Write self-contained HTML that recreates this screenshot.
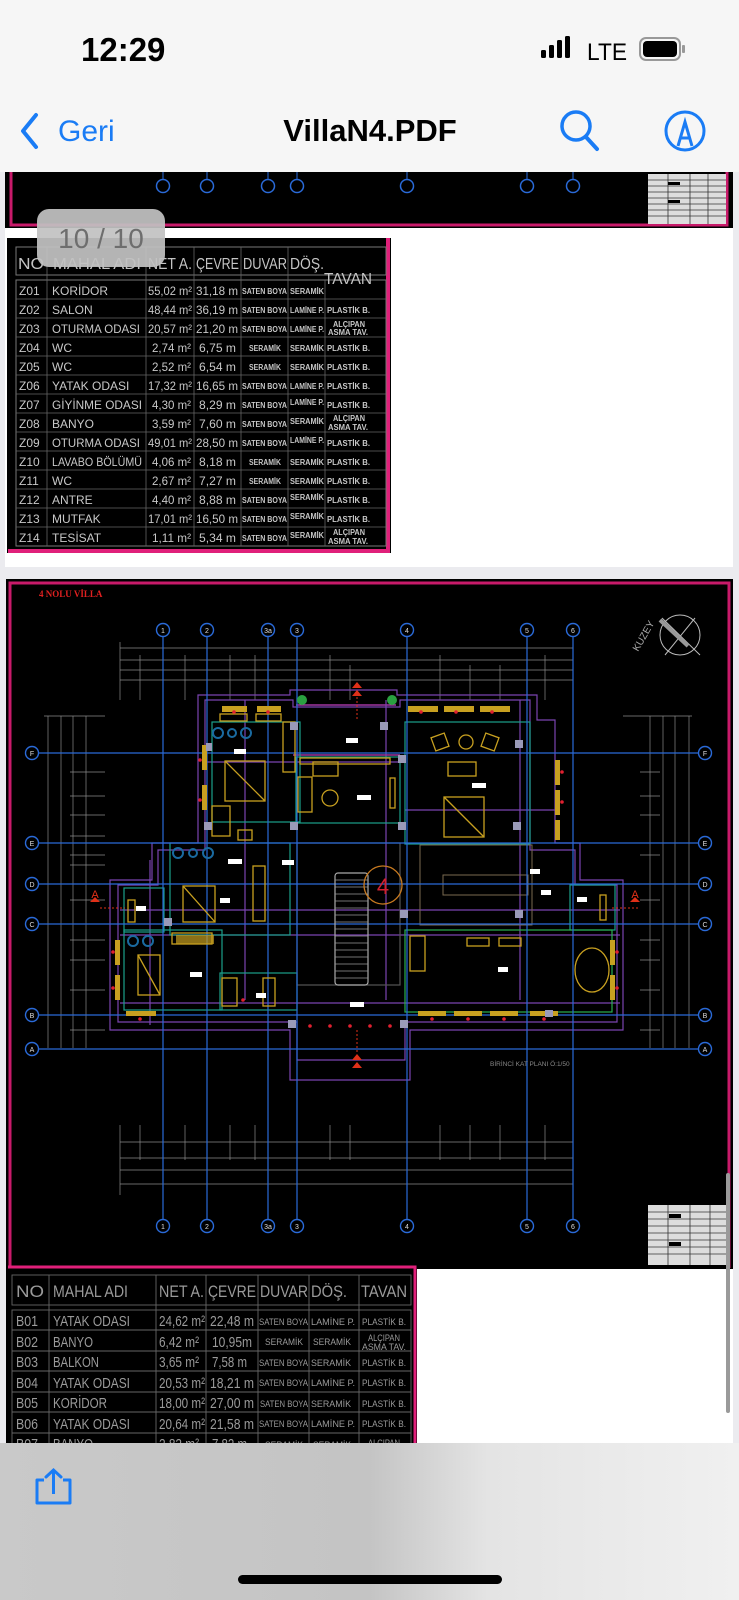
<!DOCTYPE html>
<html><head><meta charset="utf-8">
<style>
html,body{margin:0;padding:0;width:739px;height:1600px;overflow:hidden;background:#ebebef;font-family:"Liberation Sans",sans-serif;}
svg{position:absolute;left:0;top:0;}
</style></head><body>
<svg width="739" height="1600" viewBox="0 0 739 1600" xmlns="http://www.w3.org/2000/svg" font-family="Liberation Sans, sans-serif">
<!-- header -->
<rect x="0" y="0" width="739" height="172" fill="#f6f6f6"/>
<text x="81" y="61" font-size="33" font-weight="bold" fill="#000">12:29</text>
<rect x="541" y="50" width="5" height="8" rx="1.5" fill="#000"/>
<rect x="549" y="45" width="5" height="13" rx="1.5" fill="#000"/>
<rect x="557" y="40" width="5" height="18" rx="1.5" fill="#000"/>
<rect x="565" y="36" width="5" height="22" rx="1.5" fill="#000"/>
<text x="587" y="60" font-size="24" fill="#000" textLength="40" lengthAdjust="spacingAndGlyphs">LTE</text>
<rect x="640" y="38" width="40" height="22" rx="6" fill="none" stroke="#999" stroke-width="2"/>
<rect x="643" y="41" width="34" height="16" rx="4" fill="#000"/>
<rect x="682" y="45" width="3" height="8" rx="1" fill="#999"/>
<polyline points="36,115 23,131 36,147" fill="none" stroke="#1a7cf5" stroke-width="4" stroke-linecap="round" stroke-linejoin="round"/>
<text x="58" y="141" font-size="30" fill="#1a7cf5">Geri</text>
<text x="370" y="141" font-size="31" font-weight="bold" fill="#000" text-anchor="middle">VillaN4.PDF</text>
<circle cx="576" cy="126" r="14" fill="none" stroke="#1a7cf5" stroke-width="3.5"/>
<line x1="586" y1="137" x2="597" y2="149" stroke="#1a7cf5" stroke-width="4" stroke-linecap="round"/>
<circle cx="685" cy="131" r="19" fill="none" stroke="#1a7cf5" stroke-width="3"/>
<path d="M678,146 L685,122 L692,146 M680,138 L690,138" fill="none" stroke="#1a7cf5" stroke-width="3"/>

<!-- page 1 band -->
<rect x="5" y="172" width="728" height="56" fill="#000"/>
<path d="M11,172 V225 H727 V172" fill="none" stroke="#c81a6a" stroke-width="3"/>
<g fill="none" stroke="#2a6ad8" stroke-width="1.5">
<circle cx="163" cy="186" r="6.5"/><circle cx="207" cy="186" r="6.5"/><circle cx="268" cy="186" r="6.5"/><circle cx="297" cy="186" r="6.5"/><circle cx="407" cy="186" r="6.5"/><circle cx="527" cy="186" r="6.5"/><circle cx="573" cy="186" r="6.5"/>
</g>
<g stroke="#2a6ad8"><line x1="163" y1="172" x2="163" y2="179"/><line x1="207" y1="172" x2="207" y2="179"/><line x1="268" y1="172" x2="268" y2="179"/><line x1="297" y1="172" x2="297" y2="179"/><line x1="407" y1="172" x2="407" y2="179"/><line x1="527" y1="172" x2="527" y2="179"/><line x1="573" y1="172" x2="573" y2="179"/></g>
<rect x="648" y="174" width="78" height="50" fill="#ddd"/>
<g stroke="#333" stroke-width="0.8"><line x1="648" y1="180" x2="726" y2="180"/><line x1="648" y1="186" x2="726" y2="186"/><line x1="648" y1="192" x2="726" y2="192"/><line x1="648" y1="198" x2="726" y2="198"/><line x1="648" y1="204" x2="726" y2="204"/><line x1="648" y1="210" x2="726" y2="210"/><line x1="648" y1="216" x2="726" y2="216"/><line x1="668" y1="174" x2="668" y2="224"/><line x1="690" y1="174" x2="690" y2="224"/><line x1="708" y1="174" x2="708" y2="224"/></g>
<rect x="668" y="182" width="12" height="3" fill="#000"/><rect x="668" y="200" width="12" height="3" fill="#000"/>

<!-- page 1 white remainder -->
<rect x="5" y="228" width="728" height="339" fill="#fff"/>
<!-- table 1 -->
<rect x="7" y="238" width="384" height="315" fill="#000"/>
<path d="M388,238 V551 H8" fill="none" stroke="#e0207a" stroke-width="4"/>
<g stroke="#777" stroke-width="1" fill="none">
<rect x="16" y="247" width="370" height="28"/>
<rect x="16" y="280" width="370" height="266"/>
</g>
<g stroke="#666" stroke-width="0.8">
<line x1="16" y1="299" x2="386" y2="299"/><line x1="16" y1="318" x2="386" y2="318"/><line x1="16" y1="337" x2="386" y2="337"/><line x1="16" y1="356" x2="386" y2="356"/><line x1="16" y1="375" x2="386" y2="375"/><line x1="16" y1="394" x2="386" y2="394"/><line x1="16" y1="413" x2="386" y2="413"/><line x1="16" y1="432" x2="386" y2="432"/><line x1="16" y1="451" x2="386" y2="451"/><line x1="16" y1="470" x2="386" y2="470"/><line x1="16" y1="489" x2="386" y2="489"/><line x1="16" y1="508" x2="386" y2="508"/><line x1="16" y1="527" x2="386" y2="527"/>
<line x1="47" y1="247" x2="47" y2="546"/><line x1="146" y1="247" x2="146" y2="546"/><line x1="194" y1="247" x2="194" y2="546"/><line x1="241" y1="247" x2="241" y2="546"/><line x1="288" y1="247" x2="288" y2="546"/><line x1="325" y1="280" x2="325" y2="546"/>
</g>
<g fill="#c4c4c4" font-size="16" lengthAdjust="spacingAndGlyphs">
<text x="18" y="269" textLength="26" lengthAdjust="spacingAndGlyphs">NO</text><text x="53" y="269" textLength="88" lengthAdjust="spacingAndGlyphs">MAHAL ADI</text>
<text x="148" y="269" textLength="44" lengthAdjust="spacingAndGlyphs">NET A.</text><text x="196" y="269" textLength="43" lengthAdjust="spacingAndGlyphs">ÇEVRE</text>
<text x="243" y="269" textLength="44" lengthAdjust="spacingAndGlyphs">DUVAR</text><text x="290" y="269" textLength="34" lengthAdjust="spacingAndGlyphs">DÖŞ.</text>
<text x="324" y="284" textLength="48" lengthAdjust="spacingAndGlyphs">TAVAN</text>
</g>
<g fill="#c8c8c8" font-size="12">
<text x="19" y="295">Z01</text><text x="52" y="295">KORİDOR</text>
<text x="19" y="314">Z02</text><text x="52" y="314">SALON</text>
<text x="19" y="333">Z03</text><text x="52" y="333" textLength="88" lengthAdjust="spacingAndGlyphs">OTURMA ODASI</text>
<text x="19" y="352">Z04</text><text x="52" y="352">WC</text>
<text x="19" y="371">Z05</text><text x="52" y="371">WC</text>
<text x="19" y="390">Z06</text><text x="52" y="390">YATAK ODASI</text>
<text x="19" y="409">Z07</text><text x="52" y="409" textLength="90" lengthAdjust="spacingAndGlyphs">GİYİNME ODASI</text>
<text x="19" y="428">Z08</text><text x="52" y="428">BANYO</text>
<text x="19" y="447">Z09</text><text x="52" y="447" textLength="88" lengthAdjust="spacingAndGlyphs">OTURMA ODASI</text>
<text x="19" y="466">Z10</text><text x="52" y="466" textLength="90" lengthAdjust="spacingAndGlyphs">LAVABO BÖLÜMÜ</text>
<text x="19" y="485">Z11</text><text x="52" y="485">WC</text>
<text x="19" y="504">Z12</text><text x="52" y="504">ANTRE</text>
<text x="19" y="523">Z13</text><text x="52" y="523">MUTFAK</text>
<text x="19" y="542">Z14</text><text x="52" y="542">TESİSAT</text>
</g>
<g fill="#c8c8c8" font-size="12">
<text x="148" y="295" textLength="44" lengthAdjust="spacingAndGlyphs">55,02 m²</text><text x="196" y="295" textLength="42" lengthAdjust="spacingAndGlyphs">31,18 m</text>
<text x="148" y="314" textLength="44" lengthAdjust="spacingAndGlyphs">48,44 m²</text><text x="196" y="314" textLength="42" lengthAdjust="spacingAndGlyphs">36,19 m</text>
<text x="148" y="333" textLength="44" lengthAdjust="spacingAndGlyphs">20,57 m²</text><text x="196" y="333" textLength="42" lengthAdjust="spacingAndGlyphs">21,20 m</text>
<text x="152" y="352" textLength="39" lengthAdjust="spacingAndGlyphs">2,74 m²</text><text x="199" y="352" textLength="37" lengthAdjust="spacingAndGlyphs">6,75 m</text>
<text x="152" y="371" textLength="39" lengthAdjust="spacingAndGlyphs">2,52 m²</text><text x="199" y="371" textLength="37" lengthAdjust="spacingAndGlyphs">6,54 m</text>
<text x="148" y="390" textLength="44" lengthAdjust="spacingAndGlyphs">17,32 m²</text><text x="196" y="390" textLength="42" lengthAdjust="spacingAndGlyphs">16,65 m</text>
<text x="152" y="409" textLength="39" lengthAdjust="spacingAndGlyphs">4,30 m²</text><text x="199" y="409" textLength="37" lengthAdjust="spacingAndGlyphs">8,29 m</text>
<text x="152" y="428" textLength="39" lengthAdjust="spacingAndGlyphs">3,59 m²</text><text x="199" y="428" textLength="37" lengthAdjust="spacingAndGlyphs">7,60 m</text>
<text x="148" y="447" textLength="44" lengthAdjust="spacingAndGlyphs">49,01 m²</text><text x="196" y="447" textLength="42" lengthAdjust="spacingAndGlyphs">28,50 m</text>
<text x="152" y="466" textLength="39" lengthAdjust="spacingAndGlyphs">4,06 m²</text><text x="199" y="466" textLength="37" lengthAdjust="spacingAndGlyphs">8,18 m</text>
<text x="152" y="485" textLength="39" lengthAdjust="spacingAndGlyphs">2,67 m²</text><text x="199" y="485" textLength="37" lengthAdjust="spacingAndGlyphs">7,27 m</text>
<text x="152" y="504" textLength="39" lengthAdjust="spacingAndGlyphs">4,40 m²</text><text x="199" y="504" textLength="37" lengthAdjust="spacingAndGlyphs">8,88 m</text>
<text x="148" y="523" textLength="44" lengthAdjust="spacingAndGlyphs">17,01 m²</text><text x="196" y="523" textLength="42" lengthAdjust="spacingAndGlyphs">16,50 m</text>
<text x="152" y="542" textLength="39" lengthAdjust="spacingAndGlyphs">1,11 m²</text><text x="199" y="542" textLength="37" lengthAdjust="spacingAndGlyphs">5,34 m</text>
</g>
<g fill="#c8c8c8" font-size="8" font-weight="bold">
<text x="242" y="294" textLength="45" lengthAdjust="spacingAndGlyphs">SATEN BOYA</text><text x="290" y="294" textLength="34" lengthAdjust="spacingAndGlyphs">SERAMİK</text>
<text x="242" y="313" textLength="45" lengthAdjust="spacingAndGlyphs">SATEN BOYA</text><text x="290" y="313" textLength="34" lengthAdjust="spacingAndGlyphs">LAMİNE P.</text><text x="327" y="313" textLength="43" lengthAdjust="spacingAndGlyphs">PLASTİK B.</text>
<text x="242" y="332" textLength="45" lengthAdjust="spacingAndGlyphs">SATEN BOYA</text><text x="290" y="332" textLength="34" lengthAdjust="spacingAndGlyphs">LAMİNE P.</text><text x="333" y="327" textLength="32" lengthAdjust="spacingAndGlyphs">ALÇIPAN</text><text x="328" y="335" textLength="40" lengthAdjust="spacingAndGlyphs">ASMA TAV.</text>
<text x="249" y="351" textLength="32" lengthAdjust="spacingAndGlyphs">SERAMİK</text><text x="290" y="351" textLength="34" lengthAdjust="spacingAndGlyphs">SERAMİK</text><text x="327" y="351" textLength="43" lengthAdjust="spacingAndGlyphs">PLASTİK B.</text>
<text x="249" y="370" textLength="32" lengthAdjust="spacingAndGlyphs">SERAMİK</text><text x="290" y="370" textLength="34" lengthAdjust="spacingAndGlyphs">SERAMİK</text><text x="327" y="370" textLength="43" lengthAdjust="spacingAndGlyphs">PLASTİK B.</text>
<text x="242" y="389" textLength="45" lengthAdjust="spacingAndGlyphs">SATEN BOYA</text><text x="290" y="389" textLength="34" lengthAdjust="spacingAndGlyphs">LAMİNE P.</text><text x="327" y="389" textLength="43" lengthAdjust="spacingAndGlyphs">PLASTİK B.</text>
<text x="242" y="408" textLength="45" lengthAdjust="spacingAndGlyphs">SATEN BOYA</text><text x="290" y="405" textLength="34" lengthAdjust="spacingAndGlyphs">LAMİNE P.</text><text x="327" y="408" textLength="43" lengthAdjust="spacingAndGlyphs">PLASTİK B.</text>
<text x="242" y="427" textLength="45" lengthAdjust="spacingAndGlyphs">SATEN BOYA</text><text x="290" y="424" textLength="34" lengthAdjust="spacingAndGlyphs">SERAMİK</text><text x="333" y="421" textLength="32" lengthAdjust="spacingAndGlyphs">ALÇIPAN</text><text x="328" y="430" textLength="40" lengthAdjust="spacingAndGlyphs">ASMA TAV.</text>
<text x="242" y="446" textLength="45" lengthAdjust="spacingAndGlyphs">SATEN BOYA</text><text x="290" y="443" textLength="34" lengthAdjust="spacingAndGlyphs">LAMİNE P.</text><text x="327" y="446" textLength="43" lengthAdjust="spacingAndGlyphs">PLASTİK B.</text>
<text x="249" y="465" textLength="32" lengthAdjust="spacingAndGlyphs">SERAMİK</text><text x="290" y="465" textLength="34" lengthAdjust="spacingAndGlyphs">SERAMİK</text><text x="327" y="465" textLength="43" lengthAdjust="spacingAndGlyphs">PLASTİK B.</text>
<text x="249" y="484" textLength="32" lengthAdjust="spacingAndGlyphs">SERAMİK</text><text x="290" y="484" textLength="34" lengthAdjust="spacingAndGlyphs">SERAMİK</text><text x="327" y="484" textLength="43" lengthAdjust="spacingAndGlyphs">PLASTİK B.</text>
<text x="242" y="503" textLength="45" lengthAdjust="spacingAndGlyphs">SATEN BOYA</text><text x="290" y="500" textLength="34" lengthAdjust="spacingAndGlyphs">SERAMİK</text><text x="327" y="503" textLength="43" lengthAdjust="spacingAndGlyphs">PLASTİK B.</text>
<text x="242" y="522" textLength="45" lengthAdjust="spacingAndGlyphs">SATEN BOYA</text><text x="290" y="519" textLength="34" lengthAdjust="spacingAndGlyphs">SERAMİK</text><text x="327" y="522" textLength="43" lengthAdjust="spacingAndGlyphs">PLASTİK B.</text>
<text x="242" y="541" textLength="45" lengthAdjust="spacingAndGlyphs">SATEN BOYA</text><text x="290" y="538" textLength="34" lengthAdjust="spacingAndGlyphs">SERAMİK</text><text x="333" y="535" textLength="32" lengthAdjust="spacingAndGlyphs">ALÇIPAN</text><text x="328" y="544" textLength="40" lengthAdjust="spacingAndGlyphs">ASMA TAV.</text>
</g>
<!-- badge -->
<rect x="37" y="209" width="128" height="58" rx="12" fill="#c2c2c2" fill-opacity="0.93"/>
<text x="101" y="248" font-size="28" fill="#6e6e6e" text-anchor="middle">10 / 10</text>

<!-- page 2 -->
<rect x="6" y="579" width="727" height="690" fill="#000"/>
<path d="M10,1268 V583 H729 V1268" fill="none" stroke="#c81a6a" stroke-width="3"/>
<text x="39" y="597" font-size="9" font-weight="bold" fill="#e02020" font-family="Liberation Serif, serif">4 NOLU VİLLA</text>
<!-- north -->
<text x="0" y="0" font-size="10" fill="#aaa" transform="translate(638,652) rotate(-60)">KUZEY</text>
<circle cx="680" cy="635" r="20" fill="none" stroke="#bbb" stroke-width="1"/>
<line x1="662" y1="618" x2="700" y2="655" stroke="#bbb"/><line x1="695" y1="618" x2="665" y2="655" stroke="#bbb"/>
<line x1="660" y1="620" x2="688" y2="646" stroke="#999" stroke-width="4"/>

<!-- dimension lines -->
<g stroke="#8a8a8a" stroke-width="0.7" fill="none">
<line x1="120" y1="648" x2="573" y2="648"/><line x1="120" y1="660" x2="573" y2="660"/><line x1="120" y1="670" x2="573" y2="670"/><line x1="120" y1="680" x2="573" y2="680"/>
<line x1="120" y1="642" x2="120" y2="700"/><line x1="140" y1="655" x2="140" y2="700"/><line x1="185" y1="655" x2="185" y2="700"/><line x1="230" y1="655" x2="230" y2="700"/><line x1="255" y1="655" x2="255" y2="700"/><line x1="330" y1="655" x2="330" y2="700"/><line x1="350" y1="665" x2="350" y2="700"/><line x1="440" y1="655" x2="440" y2="700"/><line x1="470" y1="665" x2="470" y2="700"/><line x1="500" y1="665" x2="500" y2="700"/><line x1="545" y1="655" x2="545" y2="700"/>
<line x1="120" y1="1142" x2="573" y2="1142"/><line x1="120" y1="1158" x2="573" y2="1158"/><line x1="120" y1="1170" x2="573" y2="1170"/><line x1="120" y1="1184" x2="573" y2="1184"/>
<line x1="120" y1="1125" x2="120" y2="1195"/><line x1="140" y1="1125" x2="140" y2="1160"/><line x1="185" y1="1125" x2="185" y2="1160"/><line x1="230" y1="1125" x2="230" y2="1160"/><line x1="255" y1="1125" x2="255" y2="1160"/><line x1="330" y1="1125" x2="330" y2="1160"/><line x1="350" y1="1125" x2="350" y2="1160"/><line x1="440" y1="1125" x2="440" y2="1160"/><line x1="470" y1="1125" x2="470" y2="1160"/><line x1="500" y1="1125" x2="500" y2="1160"/><line x1="545" y1="1125" x2="545" y2="1160"/><line x1="573" y1="1125" x2="573" y2="1195"/>
<line x1="48" y1="716" x2="48" y2="1048"/><line x1="61" y1="716" x2="61" y2="1048"/><line x1="73" y1="716" x2="73" y2="1048"/><line x1="86" y1="716" x2="86" y2="1048"/>
<line x1="44" y1="716" x2="105" y2="716"/><line x1="70" y1="772" x2="105" y2="772"/><line x1="70" y1="796" x2="105" y2="796"/><line x1="70" y1="815" x2="105" y2="815"/><line x1="70" y1="836" x2="105" y2="836"/><line x1="70" y1="855" x2="105" y2="855"/><line x1="70" y1="865" x2="105" y2="865"/><line x1="70" y1="900" x2="105" y2="900"/><line x1="70" y1="940" x2="105" y2="940"/><line x1="70" y1="960" x2="105" y2="960"/><line x1="70" y1="990" x2="105" y2="990"/><line x1="70" y1="1030" x2="105" y2="1030"/>
<line x1="650" y1="716" x2="650" y2="1048"/><line x1="663" y1="716" x2="663" y2="1048"/><line x1="675" y1="716" x2="675" y2="1048"/><line x1="689" y1="716" x2="689" y2="1048"/>
<line x1="623" y1="716" x2="692" y2="716"/><line x1="640" y1="772" x2="660" y2="772"/><line x1="640" y1="796" x2="660" y2="796"/><line x1="640" y1="815" x2="660" y2="815"/><line x1="640" y1="855" x2="660" y2="855"/><line x1="640" y1="900" x2="660" y2="900"/><line x1="640" y1="940" x2="660" y2="940"/><line x1="640" y1="960" x2="660" y2="960"/><line x1="640" y1="990" x2="660" y2="990"/><line x1="640" y1="1030" x2="660" y2="1030"/>
</g>
<!-- outer building purple -->
<g fill="none" stroke="#7a44b0" stroke-width="1.2">
<path d="M198,695 H290 V690 H397 V695 H537 V720 H555 V843 H580 V880 H623 V1030 H410 V1080 H290 V1030 H110 V880 H152 V843 H198 Z"/>
<path d="M205,700 H293 V707 H400 V700 H530 V850 H575 V885 H617 V1022 H405 V1060 H297 V1022 H118 V885 H158 V850 H205 Z"/>
<line x1="296" y1="705" x2="396" y2="705" stroke="#c040c0"/>
<line x1="293" y1="755" x2="400" y2="755" stroke="#c040c0"/>
<line x1="120" y1="910" x2="620" y2="910"/><line x1="120" y1="935" x2="620" y2="935"/><line x1="120" y1="1003" x2="620" y2="1003"/>
<line x1="205" y1="762" x2="400" y2="762"/><line x1="405" y1="810" x2="555" y2="810"/>
<line x1="245" y1="700" x2="245" y2="1000"/><line x1="386" y1="700" x2="386" y2="1000"/><line x1="520" y1="700" x2="520" y2="1000"/><line x1="150" y1="860" x2="150" y2="1025"/>
</g>
<!-- teal rooms -->
<g fill="none" stroke="#1aa08a" stroke-width="1.2">
<rect x="212" y="722" width="88" height="100"/>
<rect x="170" y="843" width="120" height="92"/>
<rect x="124" y="888" width="40" height="44"/>
<rect x="124" y="930" width="98" height="80"/>
<rect x="220" y="973" width="77" height="37"/>
<rect x="405" y="722" width="125" height="122"/>
<rect x="570" y="885" width="45" height="45"/>
<rect x="405" y="930" width="207" height="82" stroke="#2ab050"/>
<rect x="296" y="757" width="104" height="66"/>
<rect x="297" y="843" width="103" height="142" stroke="#555"/>
</g>
<g fill="none" stroke="#7a6a50" stroke-width="1">
<rect x="420" y="845" width="112" height="80"/>
<rect x="443" y="875" width="85" height="20"/>
</g>
<!-- grid lines -->
<g stroke="#2a6ad8" stroke-width="1.2">
<line x1="163" y1="637" x2="163" y2="1219"/><line x1="207" y1="637" x2="207" y2="1219"/><line x1="268" y1="637" x2="268" y2="1219"/><line x1="297" y1="637" x2="297" y2="1219"/><line x1="407" y1="637" x2="407" y2="1219"/><line x1="527" y1="637" x2="527" y2="1219"/><line x1="573" y1="637" x2="573" y2="1219"/>
<line x1="39" y1="753" x2="698" y2="753"/><line x1="39" y1="843" x2="698" y2="843"/><line x1="39" y1="884" x2="698" y2="884"/><line x1="39" y1="924" x2="698" y2="924"/><line x1="39" y1="1015" x2="698" y2="1015"/><line x1="39" y1="1049" x2="698" y2="1049"/>
</g>
<g fill="#000" stroke="#2a6ad8" stroke-width="1.4">
<circle cx="163" cy="630" r="6.5"/><circle cx="207" cy="630" r="6.5"/><circle cx="268" cy="630" r="6.5"/><circle cx="297" cy="630" r="6.5"/><circle cx="407" cy="630" r="6.5"/><circle cx="527" cy="630" r="6.5"/><circle cx="573" cy="630" r="6.5"/>
<circle cx="163" cy="1226" r="6.5"/><circle cx="207" cy="1226" r="6.5"/><circle cx="268" cy="1226" r="6.5"/><circle cx="297" cy="1226" r="6.5"/><circle cx="407" cy="1226" r="6.5"/><circle cx="527" cy="1226" r="6.5"/><circle cx="573" cy="1226" r="6.5"/>
<circle cx="32" cy="753" r="6.5"/><circle cx="32" cy="843" r="6.5"/><circle cx="32" cy="884" r="6.5"/><circle cx="32" cy="924" r="6.5"/><circle cx="32" cy="1015" r="6.5"/><circle cx="32" cy="1049" r="6.5"/>
<circle cx="705" cy="753" r="6.5"/><circle cx="705" cy="843" r="6.5"/><circle cx="705" cy="884" r="6.5"/><circle cx="705" cy="924" r="6.5"/><circle cx="705" cy="1015" r="6.5"/><circle cx="705" cy="1049" r="6.5"/>
</g>
<g fill="#ddd" font-size="7" text-anchor="middle">
<text x="163" y="633">1</text><text x="207" y="633">2</text><text x="268" y="633">3a</text><text x="297" y="633">3</text><text x="407" y="633">4</text><text x="527" y="633">5</text><text x="573" y="633">6</text>
<text x="163" y="1229">1</text><text x="207" y="1229">2</text><text x="268" y="1229">3a</text><text x="297" y="1229">3</text><text x="407" y="1229">4</text><text x="527" y="1229">5</text><text x="573" y="1229">6</text>
<text x="32" y="756">F</text><text x="32" y="846">E</text><text x="32" y="887">D</text><text x="32" y="927">C</text><text x="32" y="1018">B</text><text x="32" y="1052">A</text>
<text x="705" y="756">F</text><text x="705" y="846">E</text><text x="705" y="887">D</text><text x="705" y="927">C</text><text x="705" y="1018">B</text><text x="705" y="1052">A</text>
</g>
<!-- furniture yellow -->
<g fill="none" stroke="#c8a020" stroke-width="1.3">
<rect x="220" y="714" width="27" height="7"/><rect x="256" y="714" width="25" height="7"/>
<rect x="283" y="722" width="12" height="50"/>
<rect x="225" y="761" width="40" height="40"/><line x1="225" y1="761" x2="265" y2="801"/>
<rect x="212" y="806" width="18" height="30"/><rect x="238" y="830" width="14" height="10"/>
<rect x="253" y="866" width="12" height="55"/>
<rect x="183" y="886" width="32" height="36"/><line x1="183" y1="886" x2="215" y2="922"/>
<rect x="172" y="933" width="40" height="11"/>
<rect x="138" y="955" width="22" height="40"/><line x1="138" y1="955" x2="160" y2="995"/>
<rect x="222" y="978" width="15" height="28"/><rect x="263" y="978" width="12" height="28"/>
<rect x="300" y="758" width="90" height="6"/>
<rect x="313" y="762" width="25" height="14"/>
<rect x="298" y="777" width="14" height="35"/>
<circle cx="330" cy="798" r="8"/>
<rect x="390" y="778" width="5" height="30"/>
<rect x="433" y="735" width="14" height="14" transform="rotate(-20 440 742)"/><circle cx="466" cy="742" r="7"/><rect x="483" y="735" width="14" height="14" transform="rotate(20 490 742)"/>
<rect x="448" y="762" width="28" height="14"/>
<rect x="444" y="797" width="40" height="40"/><line x1="444" y1="797" x2="484" y2="837"/>
<rect x="410" y="936" width="15" height="35"/>
<rect x="467" y="938" width="22" height="8"/><rect x="499" y="938" width="22" height="8"/>
<ellipse cx="592" cy="970" rx="17" ry="22"/>
<rect x="128" y="900" width="7" height="22"/><rect x="600" y="895" width="6" height="25"/>
</g>
<g fill="#c8a020">
<rect x="222" y="706" width="25" height="6"/><rect x="257" y="706" width="24" height="6"/><rect x="408" y="706" width="30" height="6"/><rect x="444" y="706" width="30" height="6"/><rect x="480" y="706" width="30" height="6"/>
<rect x="176" y="935" width="38" height="9" fill-opacity="0.7"/>
<rect x="126" y="1011" width="30" height="5"/><rect x="418" y="1011" width="28" height="5"/><rect x="454" y="1011" width="28" height="5"/><rect x="490" y="1011" width="28" height="5"/><rect x="530" y="1011" width="28" height="5"/>
<rect x="202" y="745" width="5" height="25"/><rect x="202" y="785" width="5" height="25"/><rect x="115" y="940" width="5" height="25"/><rect x="115" y="975" width="5" height="25"/>
<rect x="555" y="760" width="5" height="25"/><rect x="555" y="790" width="5" height="25"/><rect x="555" y="820" width="5" height="20"/><rect x="610" y="940" width="5" height="25"/><rect x="610" y="975" width="5" height="25"/>
</g>
<g fill="none" stroke="#1a6aa0" stroke-width="2"><circle cx="218" cy="733" r="5"/><circle cx="232" cy="733" r="4"/><circle cx="246" cy="733" r="5"/><circle cx="178" cy="853" r="5"/><circle cx="193" cy="853" r="4"/><circle cx="208" cy="853" r="5"/><circle cx="133" cy="941" r="5"/><circle cx="148" cy="941" r="5"/></g>
<circle cx="302" cy="700" r="5" fill="#2aa040"/><circle cx="392" cy="700" r="5" fill="#2aa040"/>
<!-- stairs -->
<rect x="335" y="873" width="33" height="112" rx="3" fill="none" stroke="#aaa" stroke-width="1.2"/>
<g stroke="#999" stroke-width="0.8">
<line x1="335" y1="880" x2="368" y2="880"/><line x1="335" y1="887" x2="368" y2="887"/><line x1="335" y1="894" x2="368" y2="894"/><line x1="335" y1="901" x2="368" y2="901"/><line x1="335" y1="908" x2="368" y2="908"/><line x1="335" y1="915" x2="368" y2="915"/><line x1="335" y1="922" x2="368" y2="922"/><line x1="335" y1="929" x2="368" y2="929"/><line x1="335" y1="936" x2="368" y2="936"/><line x1="335" y1="943" x2="368" y2="943"/><line x1="335" y1="950" x2="368" y2="950"/><line x1="335" y1="957" x2="368" y2="957"/><line x1="335" y1="964" x2="368" y2="964"/><line x1="335" y1="971" x2="368" y2="971"/><line x1="335" y1="978" x2="368" y2="978"/>
</g>
<circle cx="383" cy="885" r="19" fill="none" stroke="#c87a20" stroke-width="1.3"/>
<text x="383" y="894" font-size="22" fill="#d02030" text-anchor="middle">4</text>
<!-- wall posts -->
<g fill="#9a9ab8"><rect x="206" y="743" width="6" height="8"/><rect x="204" y="822" width="8" height="8"/><rect x="290" y="822" width="8" height="8"/><rect x="398" y="822" width="8" height="8"/><rect x="398" y="755" width="8" height="8"/><rect x="515" y="740" width="8" height="8"/><rect x="513" y="822" width="8" height="8"/><rect x="400" y="910" width="8" height="8"/><rect x="515" y="910" width="8" height="8"/><rect x="164" y="918" width="8" height="8"/><rect x="288" y="1020" width="8" height="8"/><rect x="400" y="1020" width="8" height="8"/><rect x="545" y="1010" width="8" height="7"/><rect x="290" y="722" width="8" height="8"/><rect x="380" y="722" width="8" height="8"/></g>
<!-- room labels -->
<g fill="#fff"><rect x="234" y="749" width="12" height="5"/><rect x="346" y="738" width="12" height="5"/><rect x="357" y="795" width="14" height="5"/><rect x="228" y="859" width="14" height="5"/><rect x="282" y="860" width="12" height="5"/><rect x="136" y="906" width="10" height="5"/><rect x="190" y="972" width="12" height="5"/><rect x="256" y="993" width="10" height="5"/><rect x="350" y="1002" width="14" height="5"/><rect x="472" y="783" width="14" height="5"/><rect x="530" y="869" width="10" height="5"/><rect x="541" y="890" width="10" height="5"/><rect x="498" y="967" width="10" height="5"/><rect x="577" y="897" width="10" height="5"/><rect x="220" y="898" width="10" height="5"/></g>
<g fill="#e02030"><circle cx="234" cy="712" r="1.8"/><circle cx="268" cy="712" r="1.8"/><circle cx="421" cy="712" r="1.8"/><circle cx="456" cy="712" r="1.8"/><circle cx="492" cy="712" r="1.8"/><circle cx="200" cy="760" r="1.8"/><circle cx="200" cy="800" r="1.8"/><circle cx="113" cy="952" r="1.8"/><circle cx="113" cy="988" r="1.8"/><circle cx="562" cy="772" r="1.8"/><circle cx="562" cy="802" r="1.8"/><circle cx="617" cy="952" r="1.8"/><circle cx="617" cy="988" r="1.8"/><circle cx="140" cy="1019" r="1.8"/><circle cx="432" cy="1019" r="1.8"/><circle cx="468" cy="1019" r="1.8"/><circle cx="504" cy="1019" r="1.8"/><circle cx="544" cy="1019" r="1.8"/><circle cx="243" cy="1000" r="1.8"/><circle cx="310" cy="1026" r="1.8"/><circle cx="330" cy="1026" r="1.8"/><circle cx="350" cy="1026" r="1.8"/><circle cx="370" cy="1026" r="1.8"/><circle cx="390" cy="1026" r="1.8"/></g>
<!-- section marks -->
<path d="M357,682 l-5,6 h10 z M357,690 l-5,6 h10 z" fill="#e03018"/>
<path d="M357,1054 l-5,6 h10 z M357,1062 l-5,6 h10 z" fill="#e03018"/>
<line x1="357" y1="697" x2="357" y2="720" stroke="#e03018" stroke-dasharray="2,2"/>
<line x1="357" y1="1030" x2="357" y2="1052" stroke="#e03018" stroke-dasharray="2,2"/>
<text x="95" y="898" font-size="11" fill="#e03018" text-anchor="middle">A</text><path d="M90,902 h10 l-5,-5 z" fill="#e03018"/>
<text x="635" y="898" font-size="11" fill="#e03018" text-anchor="middle">A</text><path d="M630,902 h10 l-5,-5 z" fill="#e03018"/>
<line x1="100" y1="908" x2="125" y2="908" stroke="#e03018" stroke-dasharray="2,2"/><line x1="612" y1="908" x2="640" y2="908" stroke="#e03018" stroke-dasharray="2,2"/>
<text x="490" y="1066" font-size="6.5" fill="#888">BİRİNCİ KAT PLANI Ö:1/50</text>
<!-- page2 title block -->
<rect x="648" y="1205" width="80" height="60" fill="#ddd"/>
<g stroke="#333" stroke-width="0.8"><line x1="648" y1="1212" x2="728" y2="1212"/><line x1="648" y1="1219" x2="728" y2="1219"/><line x1="648" y1="1226" x2="728" y2="1226"/><line x1="648" y1="1233" x2="728" y2="1233"/><line x1="648" y1="1240" x2="728" y2="1240"/><line x1="648" y1="1247" x2="728" y2="1247"/><line x1="648" y1="1254" x2="728" y2="1254"/><line x1="668" y1="1205" x2="668" y2="1265"/><line x1="690" y1="1205" x2="690" y2="1265"/><line x1="710" y1="1205" x2="710" y2="1265"/></g>
<rect x="669" y="1214" width="12" height="4" fill="#000"/><rect x="669" y="1242" width="12" height="4" fill="#000"/>

<!-- page2 white remainder + table 2 -->
<rect x="6" y="1269" width="727" height="180" fill="#fff"/>
<rect x="6" y="1266" width="411" height="185" fill="#000"/>
<path d="M8,1267 H415 V1450" fill="none" stroke="#e0207a" stroke-width="3"/>
<g stroke="#666" stroke-width="0.9" fill="none">
<rect x="12" y="1275" width="399" height="30"/>
<rect x="12" y="1310" width="399" height="140"/>
<line x1="12" y1="1330" x2="411" y2="1330"/><line x1="12" y1="1351" x2="411" y2="1351"/><line x1="12" y1="1371" x2="411" y2="1371"/><line x1="12" y1="1392" x2="411" y2="1392"/><line x1="12" y1="1412" x2="411" y2="1412"/><line x1="12" y1="1433" x2="411" y2="1433"/>
<line x1="49" y1="1275" x2="49" y2="1450"/><line x1="156" y1="1275" x2="156" y2="1450"/><line x1="206" y1="1275" x2="206" y2="1450"/><line x1="258" y1="1275" x2="258" y2="1450"/><line x1="309" y1="1275" x2="309" y2="1450"/><line x1="359" y1="1275" x2="359" y2="1450"/>
</g>
<g fill="#9a9a9a" font-size="17">
<text x="16" y="1297" textLength="28" lengthAdjust="spacingAndGlyphs">NO</text><text x="53" y="1297" textLength="75" lengthAdjust="spacingAndGlyphs">MAHAL ADI</text><text x="159" y="1297" textLength="45" lengthAdjust="spacingAndGlyphs">NET A.</text><text x="208" y="1297" textLength="48" lengthAdjust="spacingAndGlyphs">ÇEVRE</text><text x="260" y="1297" textLength="48" lengthAdjust="spacingAndGlyphs">DUVAR</text><text x="311" y="1297" textLength="36" lengthAdjust="spacingAndGlyphs">DÖŞ.</text><text x="361" y="1297" textLength="46" lengthAdjust="spacingAndGlyphs">TAVAN</text>
</g>
<g fill="#9a9a9a" font-size="15">
<text x="16" y="1326" textLength="22" lengthAdjust="spacingAndGlyphs">B01</text><text x="53" y="1326" textLength="77" lengthAdjust="spacingAndGlyphs">YATAK ODASI</text><text x="159" y="1326" textLength="46" lengthAdjust="spacingAndGlyphs">24,62 m²</text><text x="210" y="1326" textLength="44" lengthAdjust="spacingAndGlyphs">22,48 m</text>
<text x="16" y="1347" textLength="22" lengthAdjust="spacingAndGlyphs">B02</text><text x="53" y="1347" textLength="40" lengthAdjust="spacingAndGlyphs">BANYO</text><text x="159" y="1347" textLength="40" lengthAdjust="spacingAndGlyphs">6,42 m²</text><text x="212" y="1347" textLength="40" lengthAdjust="spacingAndGlyphs">10,95m</text>
<text x="16" y="1367" textLength="22" lengthAdjust="spacingAndGlyphs">B03</text><text x="53" y="1367" textLength="46" lengthAdjust="spacingAndGlyphs">BALKON</text><text x="159" y="1367" textLength="40" lengthAdjust="spacingAndGlyphs">3,65 m²</text><text x="212" y="1367" textLength="35" lengthAdjust="spacingAndGlyphs">7,58 m</text>
<text x="16" y="1388" textLength="22" lengthAdjust="spacingAndGlyphs">B04</text><text x="53" y="1388" textLength="77" lengthAdjust="spacingAndGlyphs">YATAK ODASI</text><text x="159" y="1388" textLength="46" lengthAdjust="spacingAndGlyphs">20,53 m²</text><text x="210" y="1388" textLength="44" lengthAdjust="spacingAndGlyphs">18,21 m</text>
<text x="16" y="1408" textLength="22" lengthAdjust="spacingAndGlyphs">B05</text><text x="53" y="1408" textLength="54" lengthAdjust="spacingAndGlyphs">KORİDOR</text><text x="159" y="1408" textLength="46" lengthAdjust="spacingAndGlyphs">18,00 m²</text><text x="210" y="1408" textLength="44" lengthAdjust="spacingAndGlyphs">27,00 m</text>
<text x="16" y="1429" textLength="22" lengthAdjust="spacingAndGlyphs">B06</text><text x="53" y="1429" textLength="77" lengthAdjust="spacingAndGlyphs">YATAK ODASI</text><text x="159" y="1429" textLength="46" lengthAdjust="spacingAndGlyphs">20,64 m²</text><text x="210" y="1429" textLength="44" lengthAdjust="spacingAndGlyphs">21,58 m</text>
<text x="16" y="1449" textLength="22" lengthAdjust="spacingAndGlyphs">B07</text><text x="53" y="1449" textLength="40" lengthAdjust="spacingAndGlyphs">BANYO</text><text x="159" y="1449" textLength="40" lengthAdjust="spacingAndGlyphs">2,82 m²</text><text x="212" y="1449" textLength="35" lengthAdjust="spacingAndGlyphs">7,82 m</text>
</g>
<g fill="#9a9a9a" font-size="9">
<text x="259" y="1325" textLength="49" lengthAdjust="spacingAndGlyphs">SATEN BOYA</text><text x="311" y="1325" textLength="44" lengthAdjust="spacingAndGlyphs">LAMİNE P.</text><text x="362" y="1325" textLength="44" lengthAdjust="spacingAndGlyphs">PLASTİK B.</text>
<text x="265" y="1345" textLength="38" lengthAdjust="spacingAndGlyphs">SERAMİK</text><text x="313" y="1345" textLength="38" lengthAdjust="spacingAndGlyphs">SERAMİK</text><text x="368" y="1341" textLength="32" lengthAdjust="spacingAndGlyphs">ALÇIPAN</text><text x="362" y="1350" textLength="44" lengthAdjust="spacingAndGlyphs">ASMA TAV.</text>
<text x="259" y="1366" textLength="49" lengthAdjust="spacingAndGlyphs">SATEN BOYA</text><text x="311" y="1366" textLength="40" lengthAdjust="spacingAndGlyphs">SERAMİK</text><text x="362" y="1366" textLength="44" lengthAdjust="spacingAndGlyphs">PLASTİK B.</text>
<text x="259" y="1386" textLength="49" lengthAdjust="spacingAndGlyphs">SATEN BOYA</text><text x="311" y="1386" textLength="44" lengthAdjust="spacingAndGlyphs">LAMİNE P.</text><text x="362" y="1386" textLength="44" lengthAdjust="spacingAndGlyphs">PLASTİK B.</text>
<text x="260" y="1407" textLength="48" lengthAdjust="spacingAndGlyphs">SATEN BOYA</text><text x="311" y="1407" textLength="40" lengthAdjust="spacingAndGlyphs">SERAMİK</text><text x="362" y="1407" textLength="44" lengthAdjust="spacingAndGlyphs">PLASTİK B.</text>
<text x="259" y="1427" textLength="49" lengthAdjust="spacingAndGlyphs">SATEN BOYA</text><text x="311" y="1427" textLength="44" lengthAdjust="spacingAndGlyphs">LAMİNE P.</text><text x="362" y="1427" textLength="44" lengthAdjust="spacingAndGlyphs">PLASTİK B.</text>
<text x="265" y="1448" textLength="38" lengthAdjust="spacingAndGlyphs">SERAMİK</text><text x="313" y="1448" textLength="38" lengthAdjust="spacingAndGlyphs">SERAMİK</text><text x="368" y="1446" textLength="32" lengthAdjust="spacingAndGlyphs">ALÇIPAN</text>
</g>
<rect x="726" y="1173" width="4" height="240" rx="2" fill="#9a9a9a"/>

<!-- bottom toolbar -->
<defs><linearGradient id="tb" x1="0" x2="1" y1="0" y2="0"><stop offset="0" stop-color="#c9c9c9"/><stop offset="0.5" stop-color="#c4c4c4"/><stop offset="0.66" stop-color="#e4e4e4"/><stop offset="1" stop-color="#f0f0f0"/></linearGradient></defs>
<rect x="0" y="1443" width="739" height="157" fill="url(#tb)"/>
<path d="M44,1480 H37 V1503 H70 V1480 H63" fill="none" stroke="#1a7cf5" stroke-width="3" stroke-linejoin="round"/>
<line x1="53.5" y1="1470" x2="53.5" y2="1494" stroke="#1a7cf5" stroke-width="3"/>
<polyline points="46,1477 53.5,1470 61,1477" fill="none" stroke="#1a7cf5" stroke-width="3" stroke-linecap="round"/>
<rect x="238" y="1575" width="264" height="9" rx="4.5" fill="#000"/>
</svg>
</body></html>
